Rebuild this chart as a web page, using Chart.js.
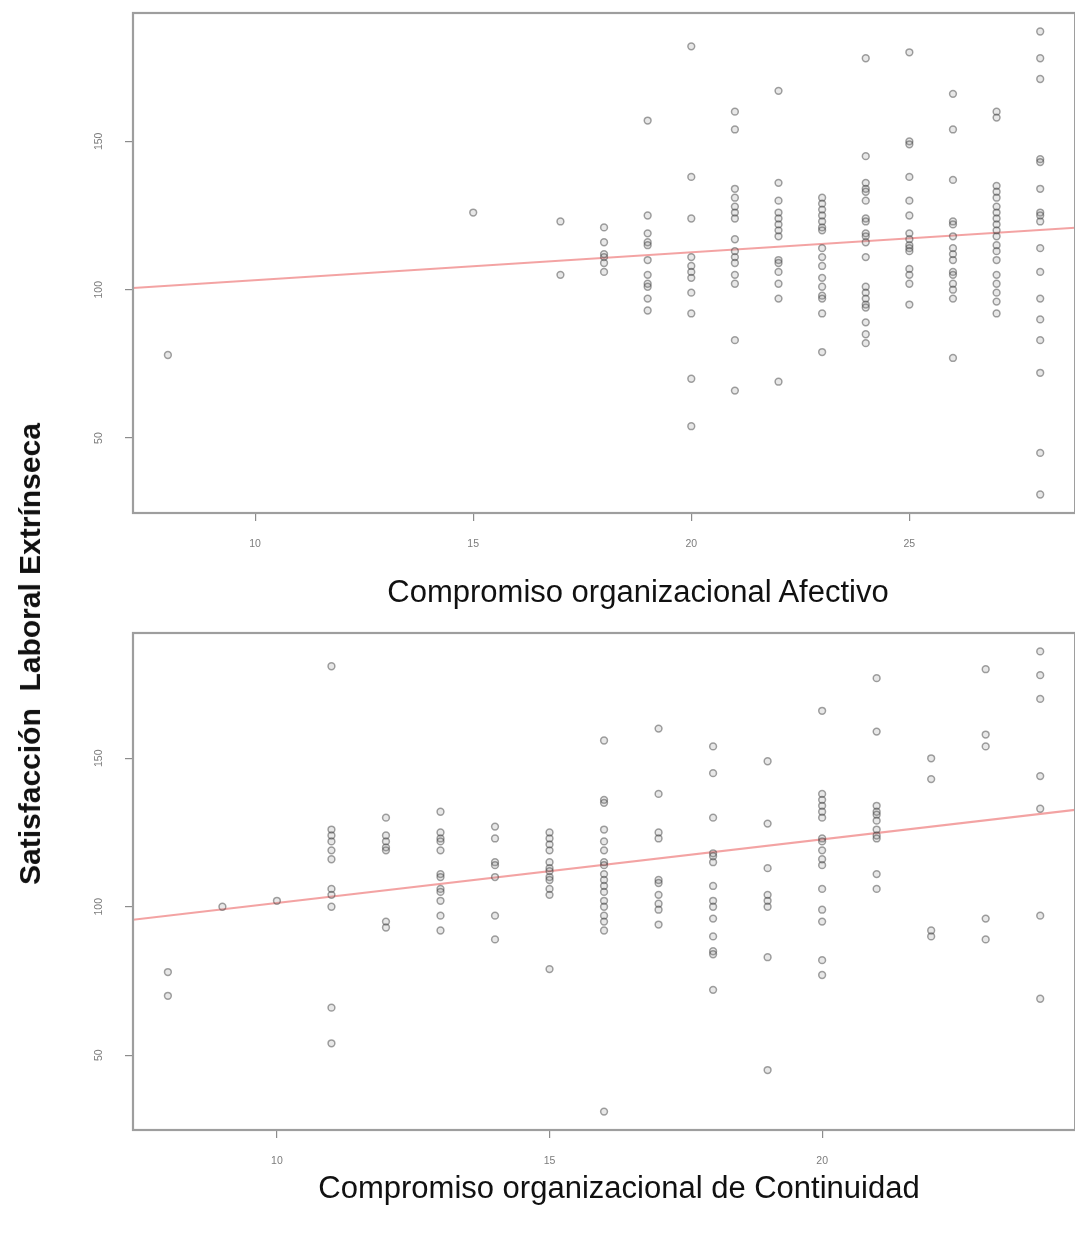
<!DOCTYPE html>
<html>
<head>
<meta charset="utf-8">
<script src="https://cdn.jsdelivr.net/npm/chart.js@4.4.1/dist/chart.umd.min.js"></script>
<style>
  html, body { margin: 0; padding: 0; background: #fff; overflow: hidden; width: 1075px; height: 1235px; }
  #c1 { position: absolute; left: 0; top: 0; }
  #c2 { position: absolute; left: 0; top: 620px; }
  .title {
    position: absolute; white-space: pre; color: #111; line-height: 1.2;
    font-family: "Liberation Sans", Arial, Helvetica, sans-serif;
  }
  #ytitle {
    left: 30px; top: 654px; font-size: 30px; font-weight: bold;
    transform: translate(-50%, -50%) rotate(-90deg);
  }
  #xtitle1 { left: 638px; top: 592px; font-size: 31px; transform: translate(-50%, -50%); }
  #xtitle2 { left: 619px; top: 1188px; font-size: 31px; transform: translate(-50%, -50%); }
</style>
</head>
<body>
<canvas id="c1" width="1080" height="620"></canvas>
<canvas id="c2" width="1080" height="615"></canvas>
<div id="ytitle" class="title">Satisfacción  Laboral Extrínseca</div>
<div id="xtitle1" class="title">Compromiso organizacional Afectivo</div>
<div id="xtitle2" class="title">Compromiso organizacional de Continuidad</div>
<script>
// Compromiso afectivo: score values and the satisfaction scores observed at each
const afecScores = [8, 15, 17, 18, 19, 20, 21, 22, 23, 24, 25, 26, 27, 28];
const afecSatisf = [
  [78],
  [126],
  [123, 105],
  [121, 116, 112, 111, 109, 106],
  [157, 125, 119, 116, 115, 110, 105, 102, 101, 97, 93],
  [182, 138, 124, 111, 108, 106, 104, 99, 92, 70, 54],
  [160, 154, 134, 131, 128, 126, 124, 117, 113, 111, 109, 105, 102, 83, 66],
  [167, 136, 130, 126, 124, 122, 120, 118, 110, 109, 106, 102, 97, 69],
  [131, 129, 127, 125, 123, 121, 120, 114, 111, 108, 104, 101, 98, 97, 92, 79],
  [178, 145, 136, 134, 133, 130, 124, 123, 119, 118, 116, 111, 101, 99, 97, 95, 94, 89, 85, 82],
  [180, 150, 149, 138, 130, 125, 119, 117, 115, 114, 113, 107, 105, 102, 95],
  [166, 154, 137, 123, 122, 118, 114, 112, 110, 106, 105, 102, 100, 97, 77],
  [160, 158, 135, 133, 131, 128, 126, 124, 122, 120, 118, 115, 113, 110, 105, 102, 99, 96, 92],
  [187, 178, 171, 144, 143, 134, 126, 125, 123, 114, 106, 97, 90, 83, 72, 45, 31]
];
const afecFit = [93.8, 0.94];          // intercept, slope
const afecXTicks = [10, 15, 20, 25];

// Compromiso de continuidad
const contScores = [8, 9, 10, 11, 12, 13, 14, 15, 16, 17, 18, 19, 20, 21, 22, 23, 24];
const contSatisf = [
  [78, 70],
  [100],
  [102],
  [181, 126, 124, 122, 119, 116, 106, 104, 100, 66, 54],
  [130, 124, 122, 120, 119, 95, 93],
  [132, 125, 123, 122, 119, 111, 110, 106, 105, 102, 97, 92],
  [127, 123, 115, 114, 110, 97, 89],
  [125, 123, 121, 119, 115, 113, 112, 110, 109, 106, 104, 79],
  [156, 136, 135, 126, 122, 119, 115, 114, 111, 109, 107, 105, 102, 100, 97, 95, 92, 31],
  [160, 138, 125, 123, 109, 108, 104, 101, 99, 94],
  [154, 145, 130, 118, 117, 115, 107, 102, 100, 96, 90, 85, 84, 72],
  [149, 128, 113, 104, 102, 100, 83, 45],
  [166, 138, 136, 134, 132, 130, 123, 122, 119, 116, 114, 106, 99, 95, 82, 77],
  [177, 159, 134, 132, 131, 129, 126, 124, 123, 111, 106],
  [150, 143, 92, 90],
  [180, 158, 154, 96, 89],
  [186, 178, 170, 144, 133, 97, 69]
];
const contFit = [79.9, 2.14];
const contXTicks = [10, 15, 20];

const yTicks = [50, 100, 150];

const FONT = '"Liberation Sans", Arial, Helvetica, sans-serif';
const TICK_COLOR = '#7c7c7c';

// axis limits padded by 4% of the data span on each side
function paddedRange(vals) {
  const lo = Math.min(...vals), hi = Math.max(...vals), d = (hi - lo) * 0.04;
  return [lo - d, hi + d];
}

// grey box around the plotting region
const framePlugin = {
  id: 'frame',
  afterDraw(chart) {
    const { ctx, chartArea: a } = chart;
    ctx.save();
    ctx.strokeStyle = '#9e9e9e';
    ctx.lineWidth = 2.2;
    ctx.strokeRect(a.left, a.top, a.right - a.left, a.bottom - a.top);
    ctx.restore();
  }
};

// y tick labels written along the axis, reading upward
const yLabelPlugin = {
  id: 'yLabels',
  afterDraw(chart) {
    const { ctx, chartArea: a } = chart;
    const ys = chart.scales.y;
    ctx.save();
    ctx.fillStyle = TICK_COLOR;
    ctx.font = '10.5px ' + FONT;
    ctx.textAlign = 'center';
    ctx.textBaseline = 'middle';
    yTicks.forEach(v => {
      const py = ys.getPixelForValue(v);
      ctx.save();
      ctx.translate(a.left - 34, py);
      ctx.rotate(-Math.PI / 2);
      ctx.fillText(String(v), 0, 0);
      ctx.restore();
    });
    ctx.restore();
  }
};

function buildPanel(id, scores, satisf, fit, xTicks, axisHeight) {
  const points = [];
  scores.forEach((s, i) => satisf[i].forEach(v => points.push({ x: s, y: v })));
  const xr = paddedRange(scores);
  const yr = paddedRange(satisf.flat());
  const fitLine = xr.map(x => ({ x, y: fit[0] + fit[1] * x }));

  new Chart(document.getElementById(id), {
    type: 'scatter',
    data: {
      datasets: [
        {
          data: points,
          pointRadius: 3.4,
          pointHoverRadius: 3.4,
          borderWidth: 1.5,
          borderColor: 'rgba(60,60,60,0.48)',
          backgroundColor: 'rgba(140,140,140,0.2)'
        },
        {
          type: 'line',
          data: fitLine,
          showLine: true,
          borderColor: 'rgba(240,140,140,0.8)',
          borderWidth: 2,
          pointRadius: 0,
          fill: false
        }
      ]
    },
    options: {
      responsive: false,
      animation: false,
      events: [],
      layout: { padding: { top: 13, right: 4, left: 0, bottom: 0 } },
      plugins: { legend: { display: false }, tooltip: { enabled: false } },
      scales: {
        x: {
          type: 'linear',
          min: xr[0], max: xr[1],
          afterBuildTicks: s => { s.ticks = xTicks.map(v => ({ value: v })); },
          afterFit: s => { s.height = axisHeight; },
          border: { display: false },
          grid: { drawOnChartArea: false, drawTicks: true, tickLength: 8, tickColor: '#8c8c8c', lineWidth: 1.2 },
          ticks: { font: { size: 10.5, family: FONT }, color: TICK_COLOR, padding: 17, maxRotation: 0 }
        },
        y: {
          type: 'linear',
          min: yr[0], max: yr[1],
          afterBuildTicks: s => { s.ticks = yTicks.map(v => ({ value: v })); },
          afterFit: s => { s.width = 133; },
          border: { display: false },
          grid: { drawOnChartArea: false, drawTicks: true, tickLength: 8, tickColor: '#8c8c8c', lineWidth: 1.2 },
          ticks: { display: false }
        }
      }
    },
    plugins: [framePlugin, yLabelPlugin]
  });
}

buildPanel('c1', afecScores, afecSatisf, afecFit, afecXTicks, 107);
buildPanel('c2', contScores, contSatisf, contFit, contXTicks, 105);
</script>
</body>
</html>
